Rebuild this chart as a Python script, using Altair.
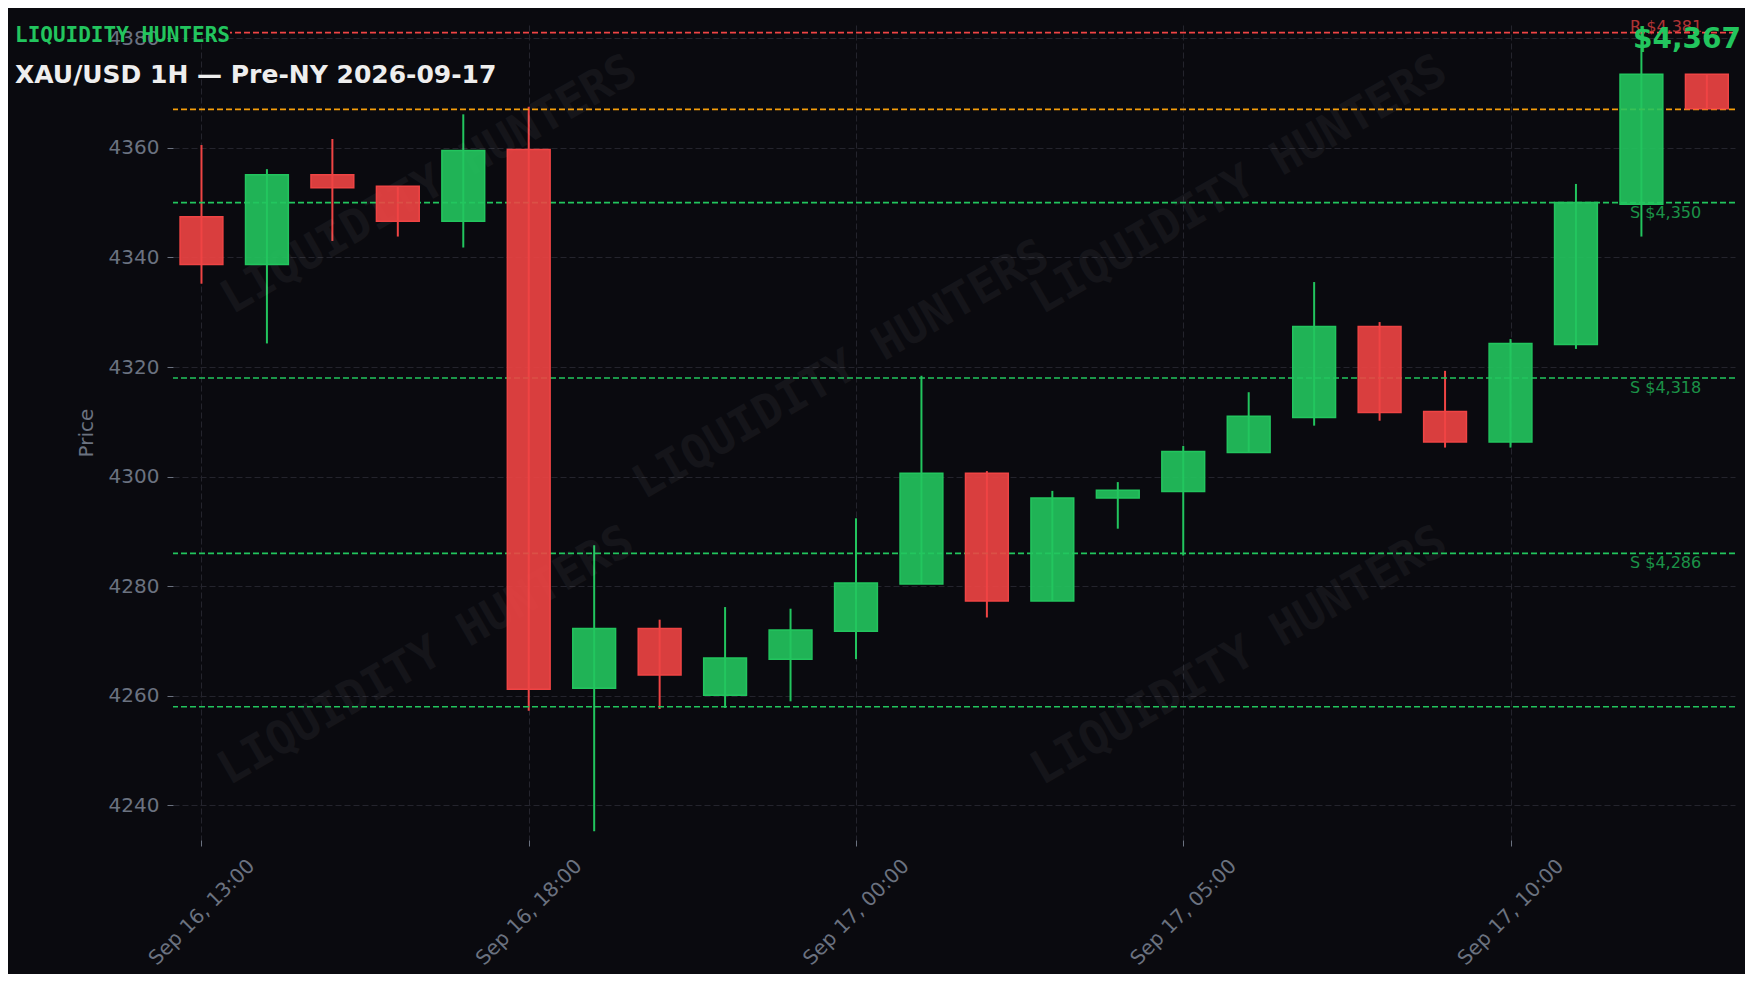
import altair as alt
import pandas as pd

# ---------------- data ----------------
opens  = [4347.4, 4338.7, 4355.1, 4353.0, 4346.6, 4359.7, 4261.4, 4272.3, 4260.1, 4266.7,
          4271.8, 4280.4, 4300.6, 4277.3, 4296.1, 4297.3, 4304.4, 4310.8, 4327.4, 4311.9,
          4306.3, 4324.1, 4349.7, 4373.4]
highs  = [4360.5, 4356.1, 4361.6, 4353.0, 4366.1, 4367.5, 4287.5, 4273.9, 4276.2, 4275.9,
          4292.4, 4318.4, 4301.0, 4297.4, 4299.0, 4305.6, 4315.4, 4335.5, 4328.2, 4319.3,
          4325.1, 4353.4, 4382.2, 4373.4]
lows   = [4335.2, 4324.3, 4343.0, 4343.8, 4341.8, 4257.3, 4235.3, 4257.6, 4257.8, 4259.0,
          4266.7, 4280.4, 4274.3, 4277.3, 4290.5, 4285.6, 4304.4, 4309.3, 4310.2, 4305.3,
          4305.3, 4323.3, 4343.8, 4366.9]
closes = [4338.7, 4355.1, 4352.7, 4346.6, 4359.5, 4261.2, 4272.3, 4263.8, 4266.9, 4272.0,
          4280.6, 4300.6, 4277.3, 4296.1, 4297.5, 4304.6, 4311.0, 4327.4, 4311.7, 4306.3,
          4324.3, 4350.0, 4373.4, 4367.1]

tick_positions = [0, 5, 10, 15, 20]
tick_labels = ["Sep 16, 13:00", "Sep 16, 18:00", "Sep 17, 00:00", "Sep 17, 05:00", "Sep 17, 10:00"]
y_ticks = [4240, 4260, 4280, 4300, 4320, 4340, 4360, 4380]

level_values = [4381, 4367, 4350, 4318, 4286, 4258]
level_kinds = ["resistance", "price", "support", "support", "support", "support"]
level_texts = ["R $4,381", "", "S $4,350", "S $4,318", "S $4,286", ""]

last_price_text = "$4,367"
brand_text = "LIQUIDITY HUNTERS"
subtitle_text = "XAU/USD 1H — Pre-NY 2026-09-17"

# ---------------- styling / layout ----------------
BG = "#0a0a0f"
GRID = "#24242d"
AXIS_GRAY = "#6b7280"
GREEN = "#22c55e"
RED = "#ef4444"
ORANGE = "#f59e0b"
W, H = 1562, 815
WATERMARK_SPOTS = [(256, 160), (668, 345), (1066, 160), (253, 631), (1066, 631)]

candles = pd.DataFrame({
    "i": list(range(len(opens))),
    "open": opens, "high": highs, "low": lows, "close": closes,
})
candles["dir"] = ["up" if c >= o else "down" for o, c in zip(opens, closes)]

levels = pd.DataFrame({"value": level_values, "kind": level_kinds, "label": level_texts})

x_scale = alt.Scale(domain=[-0.435, 23.43], nice=False, zero=False)
y_scale = alt.Scale(domain=[4233.7, 4382.4], nice=False, zero=False)
color_scale = alt.Scale(domain=["up", "down", "resistance", "price", "support"],
                        range=[GREEN, RED, RED, ORANGE, GREEN])

label_expr = ("[" + ",".join("'" + t + "'" for t in tick_labels) + "][indexof("
              + str(tick_positions) + ", datum.value)]")

x_axis = alt.Axis(values=tick_positions, labelExpr=label_expr, labelAngle=315,
                  labelAlign="center", labelBaseline="middle", labelPadding=66,
                  labelFontSize=20, labelColor=AXIS_GRAY, tickSize=6, tickColor=AXIS_GRAY,
                  tickWidth=1, grid=True, gridColor=GRID, gridDash=[6, 3], gridWidth=1,
                  domain=False, title=None, labelOverlap=False)
y_axis = alt.Axis(values=y_ticks, format="d", title="Price", titleFontSize=20,
                  titleFontWeight="normal", titleColor=AXIS_GRAY, titlePadding=12,
                  labelFontSize=20, labelColor=AXIS_GRAY, labelPadding=8, tickSize=6,
                  tickColor=AXIS_GRAY, tickWidth=1, grid=True, gridColor=GRID,
                  gridDash=[6, 3], gridWidth=1, domain=False)

base = alt.Chart(candles)

wicks = base.mark_rule(strokeWidth=2).encode(
    x=alt.X("i:Q", scale=x_scale, axis=x_axis),
    y=alt.Y("low:Q", scale=y_scale, axis=y_axis),
    y2="high:Q",
    color=alt.Color("dir:N", scale=color_scale, legend=None),
)

bodies = base.transform_calculate(
    x0="datum.i - 0.327", x1="datum.i + 0.327",
    top="max(datum.open, datum.close)", bot="min(datum.open, datum.close)",
).mark_rect(fillOpacity=0.9, strokeWidth=1.5).encode(
    x=alt.X("x0:Q", scale=x_scale, axis=x_axis),
    x2="x1:Q",
    y=alt.Y("bot:Q", scale=y_scale, axis=y_axis),
    y2="top:Q",
    fill=alt.Color("dir:N", scale=color_scale, legend=None),
    stroke=alt.Color("dir:N", scale=color_scale, legend=None),
)

level_lines = alt.Chart(levels).mark_rule(strokeDash=[6, 3], strokeWidth=1.6).encode(
    y=alt.Y("value:Q", scale=y_scale, axis=y_axis),
    color=alt.Color("kind:N", scale=color_scale, legend=None),
)

res_labels = alt.Chart(levels).transform_filter(
    "datum.kind == 'resistance' && datum.label != ''"
).mark_text(align="left", baseline="alphabetic", dy=-1, fontSize=16, opacity=0.72).encode(
    x=alt.value(1457), y=alt.Y("value:Q", scale=y_scale, axis=y_axis), text="label:N",
    color=alt.Color("kind:N", scale=color_scale, legend=None),
)
sup_labels = alt.Chart(levels).transform_filter(
    "datum.kind == 'support' && datum.label != ''"
).mark_text(align="left", baseline="top", dy=2, fontSize=16, opacity=0.72).encode(
    x=alt.value(1457), y=alt.Y("value:Q", scale=y_scale, axis=y_axis), text="label:N",
    color=alt.Color("kind:N", scale=color_scale, legend=None),
)

wm_layers = []
for (px, py) in WATERMARK_SPOTS:
    wm_layers.append(
        alt.Chart(pd.DataFrame({"t": [brand_text]})).mark_text(
            align="center", baseline="middle", angle=330, font="DejaVu Sans Mono",
            fontWeight="bold", fontSize=46, color="#ffffff", opacity=0.045,
        ).encode(x=alt.value(px), y=alt.value(py), text="t:N")
    )

# opaque backing behind the brand text (hides the resistance line there)
brand_box = alt.Chart(pd.DataFrame({"t": [brand_text]})).mark_rect(
    color=BG, opacity=1
).encode(x=alt.value(0), x2=alt.value(57), y=alt.value(3), y2=alt.value(11))

brand = alt.Chart(pd.DataFrame({"t": [brand_text]})).mark_text(
    align="left", baseline="alphabetic", font="DejaVu Sans Mono", fontWeight="bold",
    fontSize=21, color=GREEN,
).encode(x=alt.value(-158), y=alt.value(17), text="t:N")

subtitle = alt.Chart(pd.DataFrame({"t": [subtitle_text]})).mark_text(
    align="left", baseline="alphabetic", font="DejaVu Sans", fontWeight="bold",
    fontSize=25, color="#eeeeee",
).encode(x=alt.value(-158), y=alt.value(58), text="t:N")

price_tag = alt.Chart(pd.DataFrame({"t": [last_price_text]})).mark_text(
    align="right", baseline="alphabetic", font="DejaVu Sans", fontWeight="bold",
    fontSize=28, color=GREEN,
).encode(x=alt.value(1568), y=alt.value(23), text="t:N")

chart = alt.layer(
    wicks, *wm_layers, level_lines, brand_box, bodies, res_labels, sup_labels,
    brand, subtitle, price_tag
).properties(
    width=W, height=H,
    padding={"left": 165, "top": 17, "right": 10, "bottom": 134},
    autosize=alt.AutoSizeParams(type="none"),
    background=BG,
).configure(
    font="DejaVu Sans",
    view=alt.ViewConfig(stroke="transparent", strokeWidth=0),
)

chart.save("out.html", embed_options={"renderer": "svg", "actions": False})
